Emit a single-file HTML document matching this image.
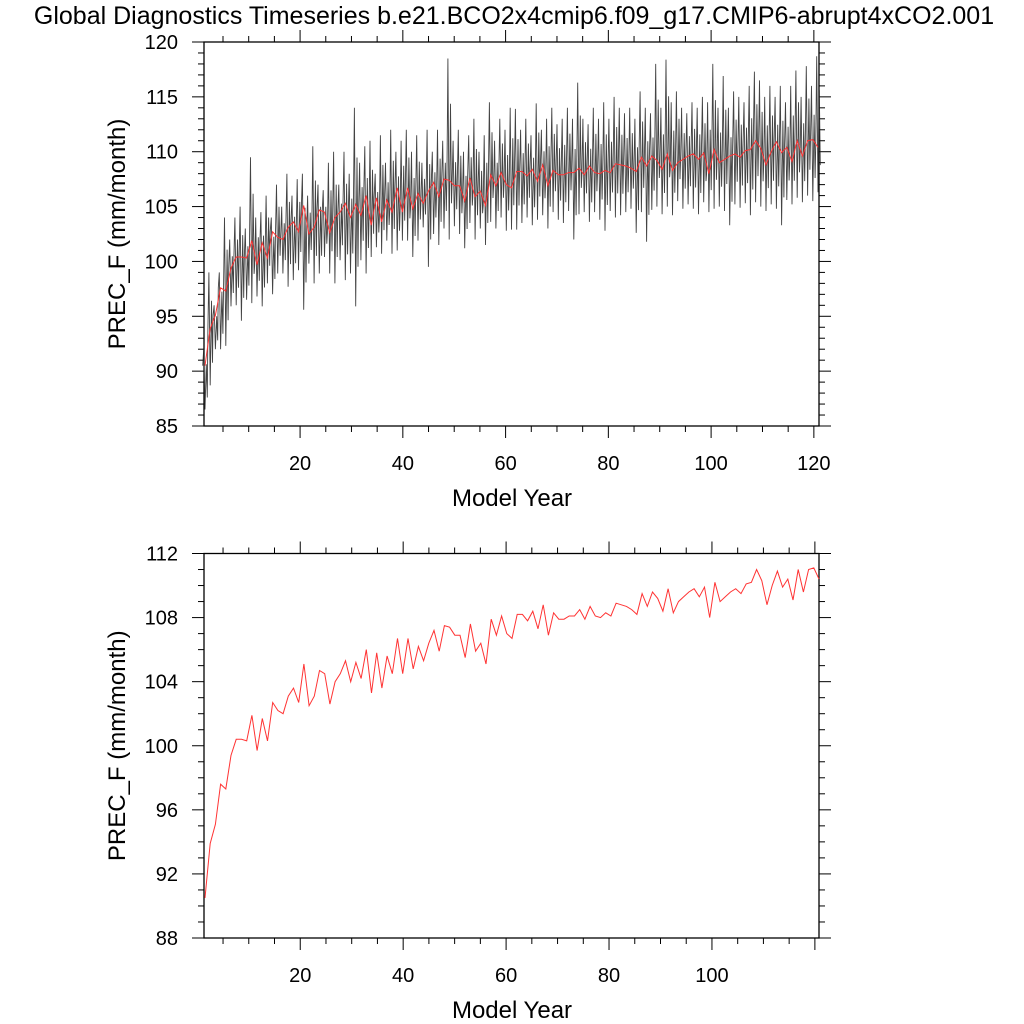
<!DOCTYPE html>
<html><head><meta charset="utf-8"><style>
html,body{margin:0;padding:0;background:#fff}
svg{display:block;font-family:"Liberation Sans",Arial,sans-serif}
</style></head><body>
<svg id="c" width="1024" height="1024" viewBox="0 0 1024 1024">
<text x="514" y="24" font-size="25" text-anchor="middle">Global Diagnostics Timeseries b.e21.BCO2x4cmip6.f09_g17.CMIP6-abrupt4xCO2.001</text>
</svg>
<script>
// annual means (years 1..119)
const annualMean = [90.5,93.9,95.1,97.6,97.3,99.4,100.4,100.4,100.3,101.9,99.7,101.7,100.3,102.7,102.2,102.0,103.1,103.6,102.7,105.1,
102.5,103.1,104.7,104.5,102.6,104.0,104.5,105.3,104.0,105.2,104.2,106.0,103.3,105.8,103.6,105.6,104.5,106.7,104.5,106.7,
104.8,106.2,105.3,106.4,107.2,105.9,107.5,107.4,106.9,106.9,105.5,107.6,105.9,106.4,105.1,107.9,106.9,108.1,107.0,106.7,
108.2,108.2,107.8,108.4,107.3,108.8,106.9,108.3,107.9,107.9,108.1,108.1,108.5,107.9,108.7,108.1,108.0,108.3,108.1,108.9,
108.8,108.7,108.5,108.2,109.5,108.7,109.6,109.2,108.4,109.8,108.3,109.0,109.3,109.6,109.8,109.3,109.9,108.0,110.2,109.0,
109.3,109.6,109.8,109.5,110.1,110.2,111.0,110.3,108.8,110.0,110.9,109.9,110.4,109.1,111.0,109.6,111.0,111.1,110.4];
// monthly envelope per year: highs and lows
const monthlyHigh = [92,99,96,99,104,102,104,105,103,109.5,104,104.5,106,104,107,105,108,106,107.5,108,
106,110.5,107,106.5,109,110,107,110,108,114,109,110.5,111,108,111.5,109,112,110,111,112,
110,111.5,109,112,110,112,111,118.5,111,112,110,111.5,113,110,111.5,114.5,111,113,112,114,
113.9,112,113,111.5,114.4,112,113,114,112.5,113,114,113,116.3,113,112.5,114,113,114.5,113,115,
114,113.5,114,113,115.5,114,113.5,118,114,118.4,114.5,115.5,114,113.5,114.5,114,115,114.5,118,114,
116.9,114,115.5,115,114.5,116,117.3,116.5,115,116,115,116,114.5,116,117.4,115,117.8,116,118.7];
const monthlyLow = [86.5,88.7,92,92,92.3,95.9,96,94.6,96.5,96.2,96.8,95.9,98,97,98.9,98.9,97.7,98.3,99.2,95.6,
99.8,98,98.9,100.4,98.9,98,100.1,98.3,98.9,95.9,100.1,98.9,100.4,101.3,100.7,101.9,100.7,101,101.9,101.9,
100.4,101.9,103.1,99.5,102.5,101.5,103,102,103.2,102.5,101.2,103.5,102,103,101.5,103.6,103,104,102.8,102.9,
102.9,103.5,104,103.3,103.8,104.2,103,104.5,103.8,103.5,104.6,102,104.3,104.5,103.6,104.5,103.8,102.8,104.6,104,
104.2,104.5,104.8,102.6,104.5,101.8,104.7,105,104.3,105,104.2,105.5,104.8,105.2,104.8,104.3,105.4,104.5,104.8,105,
104.6,103.3,105.2,104.9,105.3,104.2,105.4,105,104.6,105.2,104.8,103.3,105.6,105.2,105.8,105.4,106,105.5,106.3];
const topYTicks = [85,90,95,100,105,110,115,120];
const botYTicks = [88,92,96,100,104,108,112];
const xTicks = [20,40,60,80,100,120];
const botXTicks = [20,40,60,80,100];

const NS='http://www.w3.org/2000/svg';
const svg=document.getElementById('c');
function el(tag,attrs,parent){const e=document.createElementNS(NS,tag);for(const k in attrs)e.setAttribute(k,attrs[k]);(parent||svg).appendChild(e);return e;}

function panel(cfg){
  const g=el('g',{});
  
  
  const L=204,R=819,T=cfg.top,B=cfg.bottom;
  const xs=v=>L+(v-cfg.xmin)/(cfg.xmax-cfg.xmin)*(R-L);
  const ys=v=>B-(v-cfg.ymin)/(cfg.ymax-cfg.ymin)*(B-T);
  const fr=el('rect',{x:L,y:T,width:R-L,height:B-T,fill:'none',stroke:'#000','stroke-width':1.3},g);
  
  
  for(let v=5;v<=cfg.xmax;v+=5){
    if(v<cfg.xmin)continue;
    const major=v%20===0, len=major?12:6, x=xs(v);
    el('line',{x1:x,y1:B,x2:x,y2:B+len,stroke:'#000','stroke-width':1},g);
    el('line',{x1:x,y1:T,x2:x,y2:T-len,stroke:'#000','stroke-width':1},g);
  }
  cfg.xlabels.forEach(v=>{
    const t=el('text',{x:xs(v),y:B+44,'font-size':20,'text-anchor':'middle'},g);
    t.textContent=v;
    
    
  });
  for(let v=cfg.ymin;v<=cfg.ymax;v+=1){
    const major=cfg.ylabels.includes(v), len=major?12:6, y=ys(v);
    el('line',{x1:L,y1:y,x2:L-len,y2:y,stroke:'#000','stroke-width':1},g);
    el('line',{x1:R,y1:y,x2:R+len,y2:y,stroke:'#000','stroke-width':1},g);
  }
  cfg.ylabels.forEach(v=>{
    const t=el('text',{x:178,y:ys(v)+7,'font-size':20,'text-anchor':'end'},g);
    t.textContent=v;
    
    
  });
  const xt=el('text',{x:512,y:B+80,'font-size':24,'text-anchor':'middle'},g);
  xt.textContent='Model Year';
  
  
  const yt=el('text',{x:0,y:0,'font-size':24,'text-anchor':'middle',transform:`translate(125,${(T+B)/2}) rotate(-90)`},g);
  yt.textContent='PREC_F (mm/month)';
  
  
  return {g,xs,ys};
}
const yearPos=i=>1.5+i*(119.3/118);

const P1=panel({name:'top-panel',top:42,bottom:426,xmin:1.3,xmax:121,ymin:85,ymax:120,xlabels:xTicks,ylabels:topYTicks});
let d='';
monthlyHigh.forEach((h,i)=>{
  const yr=yearPos(i)-0.5;
  const l=monthlyLow[i];
  const m=annualMean[Math.min(i,annualMean.length-1)];
  d+=(i?'L':'M')+P1.xs(yr+0.05).toFixed(1)+','+P1.ys(m).toFixed(1);
  d+='L'+P1.xs(yr+0.25).toFixed(1)+','+P1.ys(h).toFixed(1);
  d+='L'+P1.xs(yr+0.5).toFixed(1)+','+P1.ys(l).toFixed(1);
  d+='L'+P1.xs(yr+0.75).toFixed(1)+','+P1.ys(h-(h-l)*0.25).toFixed(1);
  d+='L'+P1.xs(yr+0.95).toFixed(1)+','+P1.ys(l+(h-l)*0.2).toFixed(1);
});
const blk=el('path',{d:d,fill:'none',stroke:'#222','stroke-width':0.9,'stroke-opacity':0.85},P1.g);


let d2=annualMean.map((v,i)=>(i?'L':'M')+P1.xs(yearPos(i)).toFixed(1)+','+P1.ys(v).toFixed(1)).join('');
const red1=el('path',{d:d2,fill:'none',stroke:'#f33','stroke-width':1},P1.g);



const P2=panel({name:'bottom-panel',top:553.5,bottom:938,xmin:1.3,xmax:120.8,ymin:88,ymax:112,xlabels:botXTicks,ylabels:botYTicks});
let d3=annualMean.map((v,i)=>(i?'L':'M')+P2.xs(yearPos(i)).toFixed(1)+','+P2.ys(v).toFixed(1)).join('');
const red2=el('path',{d:d3,fill:'none',stroke:'#f33','stroke-width':1},P2.g);


</script>
</body></html>
